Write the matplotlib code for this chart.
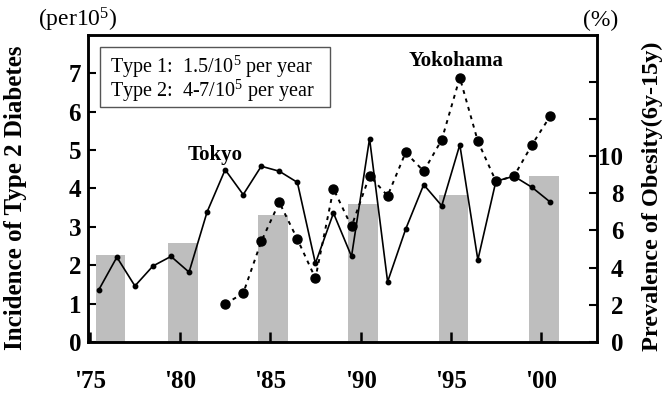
import numpy as np
import matplotlib
matplotlib.use('Agg')
import matplotlib.pyplot as plt
from matplotlib.patches import Rectangle

plt.rcParams['font.family'] = ['Liberation Serif', 'DejaVu Serif']
plt.rcParams['mathtext.default'] = 'regular'

# Tokyo incidence (per 10^5), 1975-2000
tokyo_years = np.arange(1975, 2001)
tokyo = [1.36, 2.21, 1.46, 1.98, 2.23, 1.82, 3.39, 4.49, 3.84, 4.58, 4.45, 4.16, 2.05,
         3.36, 2.23, 5.30, 1.57, 2.94, 4.10, 3.55, 5.14, 2.14, 4.19, 4.32, 4.03, 3.65]

# Yokohama incidence (per 10^5), 1982-2000
yoko_years = np.arange(1982, 2001)
yokohama = [0.99, 1.27, 2.62, 3.64, 2.68, 1.66, 3.99, 3.01, 4.33, 3.81, 4.94, 4.45,
            5.27, 6.89, 5.23, 4.19, 4.32, 5.14, 5.88]

# prevalence of obesity (%), bars
bar_years = [1976, 1980, 1985, 1990, 1995, 2000]
obesity = [4.7, 5.3, 6.8, 7.4, 7.9, 8.9]

xticks = [1975, 1980, 1985, 1990, 1995, 2000]
xlabels = ["'75", "'80", "'85", "'90", "'95", "'00"]

fig = plt.figure(figsize=(6.68, 3.96), dpi=100)
ax = fig.add_axes([0.1317, 0.1364, 0.7620, 0.7752])
ax2 = ax.twinx()

ax2.bar(np.array(bar_years) + 0.15, obesity, width=1.65, color='#bebebe', zorder=1)

ax.set_zorder(ax2.get_zorder() + 1)
ax.patch.set_visible(False)

ax.plot(tokyo_years + 0.5, tokyo, '-', color='black', lw=1.2,
        marker='o', markersize=3.2)
ax.plot(yoko_years + 0.5, yokohama, linestyle=(0, (2, 2.5)), color='black', lw=1.4,
        marker='o', markersize=6.5)

ax.set_xlim(1974.9, 2003.1)
ax.set_ylim(0, 8)
ax2.set_ylim(0, 16.5)

ax.set_xticks(xticks)
ax.set_xticklabels(xlabels, fontsize=18, fontweight='bold')
ax.set_yticks(range(8))
ax.set_yticklabels([str(i) for i in range(8)], fontsize=18, fontweight='bold')
ax2.set_yticks(range(0, 16, 2))
ax2.set_yticklabels(['0', '2', '4', '6', '8', '10', '', ''], fontsize=18, fontweight='bold')
for lab in ax2.get_yticklabels():
    lab.set_ha('right')

ax.tick_params(axis='x', direction='in', length=7, width=1.8, pad=20)
ax.tick_params(axis='y', direction='in', length=6, width=1.5, pad=5)
ax2.tick_params(axis='y', direction='in', length=6, width=1.5, pad=19)

for a in (ax, ax2):
    for s in a.spines.values():
        s.set_linewidth(1.8)

ax.set_ylabel('Incidence of Type 2 Diabetes', fontsize=18, fontweight='bold')
ax.yaxis.set_label_coords(-0.12, 0.471)
ax2.set_ylabel('Prevalence of Obesity(6y-15y)', fontsize=17.5, fontweight='bold')
ax2.yaxis.set_label_coords(1.088, 0.474)

ax.text(-0.02, 1.049, '(per$10^5$)', transform=ax.transAxes, fontsize=17,
        ha='center', va='center')
ax.text(1.008, 1.049, '(%)', transform=ax.transAxes, fontsize=17,
        ha='center', va='center')

ax.text(1981.94, 4.88, 'Tokyo', fontsize=15, fontweight='bold', ha='center', va='center')
ax.text(1995.3, 7.31, 'Yokohama', fontsize=15, fontweight='bold', ha='center', va='center')

# info box
ax.add_patch(Rectangle((0.0236, 0.7655), 0.4518, 0.1955, transform=ax.transAxes,
                       facecolor='white', edgecolor='#555555', lw=1, zorder=5))
ax.text(0.0432, 0.876, 'Type 1:  1.5/$10^5$ per year', transform=ax.transAxes,
        fontsize=14.5, ha='left', va='baseline', zorder=6)
ax.text(0.0432, 0.798, 'Type 2:  4-7/$10^5$ per year', transform=ax.transAxes,
        fontsize=14.5, ha='left', va='baseline', zorder=6)

fig.savefig('out.png', dpi=100)
